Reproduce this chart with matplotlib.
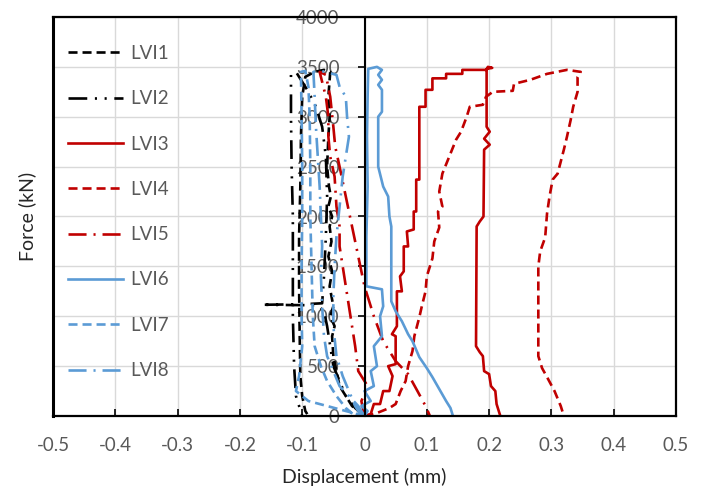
import matplotlib
matplotlib.use("Agg")
import matplotlib.pyplot as plt

plt.rcParams['font.family'] = ['Lato', 'DejaVu Sans']
plt.rcParams['axes.unicode_minus'] = False
plt.rcParams['lines.scale_dashes'] = False

# ---------------- data ----------------
labels = ["LVI1", "LVI2", "LVI3", "LVI4", "LVI5", "LVI6", "LVI7", "LVI8"]

lvi1_x = [0.000, -0.010, -0.020, -0.030, -0.040, -0.045, -0.050, -0.052, -0.048, -0.055, -0.050,
          -0.056, -0.052, -0.058, -0.053, -0.056, -0.052, -0.058, -0.054, -0.057, -0.060, -0.058,
          -0.056, -0.058, -0.055, -0.065, -0.080, -0.095, -0.100, -0.102, -0.103, -0.105, -0.105,
          -0.104, -0.103, -0.100, -0.095, -0.090]
lvi1_y = [0, 50, 100, 200, 300, 450, 600, 800, 900, 1000, 1100,
          1300, 1450, 1600, 1750, 1900, 2000, 2100, 2200, 2300, 2500, 2800,
          3000, 3200, 3450, 3470, 3450, 3400, 3200, 2800, 2300, 1800, 1300,
          800, 400, 200, 50, 0]

lvi2_x = [0.000, -0.015, -0.030, -0.040, -0.050, -0.055, -0.060, -0.065, -0.075, -0.165, -0.100,
          -0.068, -0.065, -0.062, -0.060, -0.062, -0.068, -0.078, -0.090, -0.110, -0.118, -0.118,
          -0.117, -0.115, -0.115, -0.115, -0.113, -0.110, -0.100]
lvi2_y = [0, 80, 200, 350, 500, 700, 900, 1050, 1110, 1115, 1120,
          1130, 1400, 1800, 2200, 2600, 2900, 3100, 3250, 3450, 3420, 3000,
          2500, 2000, 1500, 1000, 500, 200, 0]

lvi3_x = [0.000, 0.010, 0.015, 0.025, 0.030, 0.040, 0.045, 0.038, 0.050, 0.050, 0.044, 0.052,
          0.052, 0.060, 0.057, 0.063, 0.063, 0.070, 0.068, 0.079, 0.079, 0.083, 0.083, 0.088,
          0.088, 0.098, 0.098, 0.109, 0.109, 0.131, 0.131, 0.157, 0.157, 0.196, 0.198, 0.205,
          0.196, 0.196, 0.201, 0.192, 0.201, 0.192, 0.191, 0.185, 0.180, 0.179, 0.185, 0.190,
          0.192, 0.200, 0.203, 0.210, 0.212, 0.218]
lvi3_y = [0, 20, 120, 120, 250, 250, 400, 500, 520, 800, 820, 900,
          1250, 1250, 1400, 1450, 1700, 1700, 1850, 1870, 2050, 2050, 2370, 2370,
          3100, 3100, 3270, 3270, 3385, 3385, 3430, 3430, 3470, 3470, 3500, 3490,
          3480, 2900, 2850, 2780, 2720, 2670, 2000, 1950, 1900, 700, 640, 600,
          450, 420, 300, 250, 120, 0]

lvi4_x = [0.000, 0.020, 0.040, 0.050, 0.058, 0.066, 0.070, 0.077, 0.080, 0.088, 0.092, 0.098,
          0.100, 0.109, 0.112, 0.120, 0.118, 0.125, 0.120, 0.125, 0.136, 0.147, 0.155, 0.164,
          0.169, 0.190, 0.195, 0.206, 0.238, 0.240, 0.266, 0.293, 0.325, 0.347, 0.342, 0.342,
          0.335, 0.331, 0.325, 0.320, 0.310, 0.302, 0.297, 0.293, 0.290, 0.282, 0.279, 0.279,
          0.285, 0.293, 0.305, 0.315, 0.319]
lvi4_y = [0, 30, 80, 120, 250, 350, 500, 650, 800, 990, 1100, 1250,
          1400, 1580, 1750, 1890, 2050, 2100, 2250, 2430, 2600, 2770, 2850, 3000,
          3100, 3120, 3200, 3250, 3260, 3330, 3370, 3430, 3470, 3450, 3400, 3250,
          3100, 2970, 2800, 2670, 2430, 2370, 2200, 2030, 1790, 1650, 1500, 600,
          480, 390, 250, 100, 20]

lvi5_x = [0.000, -0.005, 0.005, -0.010, -0.015, -0.020, -0.025, -0.030, -0.035, -0.040, -0.040,
          -0.045, -0.048, -0.055, -0.058, -0.058, -0.062, -0.068, -0.072, -0.062, -0.055, -0.050,
          -0.047, -0.040, -0.030, -0.020, -0.010, 0.000, 0.015, 0.030, 0.050, 0.070, 0.085,
          0.098, 0.105]
lvi5_y = [0, 150, 300, 450, 700, 900, 1100, 1300, 1500, 1700, 1900,
          2100, 2400, 2600, 2800, 3000, 3200, 3350, 3450, 3420, 3200, 2900,
          2700, 2500, 2200, 1900, 1600, 1300, 1000, 750, 550, 420, 250,
          100, 0]

lvi6_x = [0.000, 0.005, -0.005, 0.010, 0.000, 0.015, 0.010, 0.020, 0.015, 0.028, 0.025, 0.030,
          0.028, 0.003, 0.003, 0.005, 0.004, 0.005, 0.006, 0.020, 0.028, 0.022, 0.028, 0.022,
          0.028, 0.028, 0.022, 0.022, 0.026, 0.030, 0.038, 0.040, 0.043, 0.043, 0.050, 0.060,
          0.070, 0.077, 0.088, 0.100, 0.109, 0.120, 0.131, 0.138, 0.142]
lvi6_y = [0, 50, 100, 150, 250, 300, 450, 500, 700, 800, 1000, 1100,
          1270, 1300, 1800, 2300, 2800, 3200, 3480, 3500, 3470, 3420, 3370, 3320,
          3270, 3050, 3000, 2500, 2400, 2300, 2200, 2000, 1900, 1150, 1050, 950,
          820, 750, 590, 480, 390, 270, 150, 80, 0]

lvi7_x = [0.000, -0.030, -0.060, -0.090, -0.110, -0.105, -0.100, -0.101, -0.101, -0.100, -0.100,
          -0.101, -0.102, -0.095, -0.090, -0.088, -0.087, -0.087, -0.085, -0.083, -0.080, -0.070,
          -0.060, -0.045, -0.030, -0.015]
lvi7_y = [0, 50, 100, 150, 250, 400, 700, 1000, 1500, 2000, 2500,
          3000, 3450, 3460, 3300, 3000, 2500, 2000, 1500, 1000, 700, 500,
          350, 200, 80, 0]

lvi8_x = [0.000, -0.010, -0.025, -0.040, -0.050, -0.060, -0.065, -0.068, -0.070, -0.068, -0.070,
          -0.072, -0.075, -0.078, -0.080, -0.082, -0.070, -0.045, -0.040, -0.030, -0.028, -0.025,
          -0.030, -0.035, -0.040, -0.045, -0.048, -0.050, -0.050, -0.045, -0.035, -0.025, -0.015,
          -0.005]
lvi8_y = [0, 100, 200, 300, 450, 600, 800, 1100, 1400, 1700, 2000,
          2300, 2600, 2900, 3200, 3450, 3460, 3420, 3300, 3200, 3000, 2800,
          2600, 2400, 2100, 1800, 1500, 1200, 900, 600, 400, 250, 100,
          0]

xs = [lvi1_x, lvi2_x, lvi3_x, lvi4_x, lvi5_x, lvi6_x, lvi7_x, lvi8_x]
ys = [lvi1_y, lvi2_y, lvi3_y, lvi4_y, lvi5_y, lvi6_y, lvi7_y, lvi8_y]

x_ticks = [-0.5, -0.4, -0.3, -0.2, -0.1, 0, 0.1, 0.2, 0.3, 0.4, 0.5]
x_tick_labels = ["-0.5", "-0.4", "-0.3", "-0.2", "-0.1", "0", "0.1", "0.2", "0.3", "0.4", "0.5"]
y_ticks = [0, 500, 1000, 1500, 2000, 2500, 3000, 3500, 4000]

# ---------------- styles ----------------
BLACK = "#000000"
RED = "#C00000"
BLUE = "#5B9BD5"
colors = [BLACK, BLACK, RED, RED, RED, BLUE, BLUE, BLUE]
dashed = (0, (6.5, 3.6))
dashdotdot = (0, (13.5, 5.5, 1.5, 5.5, 1.5, 5.5))
dashdot = (0, (13.0, 5.0, 1.5, 5.0))
styles = [dashed, dashdotdot, '-', dashed, dashdot, '-', dashed, dashdot]

fig = plt.figure(figsize=(7.14, 5.0), dpi=100)
ax = fig.add_axes([53 / 714, 84 / 500, 623 / 714, 399 / 500])

for x, y, c, ls, lab in zip(xs, ys, colors, styles, labels):
    ax.plot(x, y, color=c, linestyle=ls, linewidth=1.9, label=lab)

ax.set_xlim(-0.5, 0.5)
ax.set_ylim(0, 4000)
ax.set_xticks(x_ticks)
ax.set_xticklabels(x_tick_labels)
ax.set_yticks(y_ticks)

ax.grid(True, color="#D9D9D9", linewidth=1.0)
ax.set_axisbelow(True)

# y axis through x = 0, frame all around
ax.spines['left'].set_position(('data', 0))
ax.spines['left'].set_linewidth(1.5)
for s in ['top', 'bottom', 'right']:
    ax.spines[s].set_linewidth(1.6)
    ax.spines[s].set_color(BLACK)
ax.axvline(-0.5, color=BLACK, linewidth=2.2, clip_on=False, zorder=5)

ax.tick_params(axis='x', direction='in', length=5, width=1.2, pad=15,
               labelsize=13.5, labelcolor="#595959")
ax.tick_params(axis='y', direction='out', length=5, width=1.2, pad=13,
               labelsize=13.5, labelcolor="#595959")

ax.set_xlabel("Displacement (mm)", fontsize=14, color="#262626", labelpad=10)
ax.set_ylabel("Force (kN)", fontsize=14, color="#262626")
ax.yaxis.set_label_coords(-0.027, 0.5)

leg = ax.legend(loc='upper left', bbox_to_anchor=(0.024, 0.93), frameon=False,
                fontsize=13.5, handlelength=2.93, handletextpad=0.37,
                labelspacing=1.51, borderpad=0, borderaxespad=0)
for t in leg.get_texts():
    t.set_color("#595959")

fig.savefig("out.png", dpi=100)
